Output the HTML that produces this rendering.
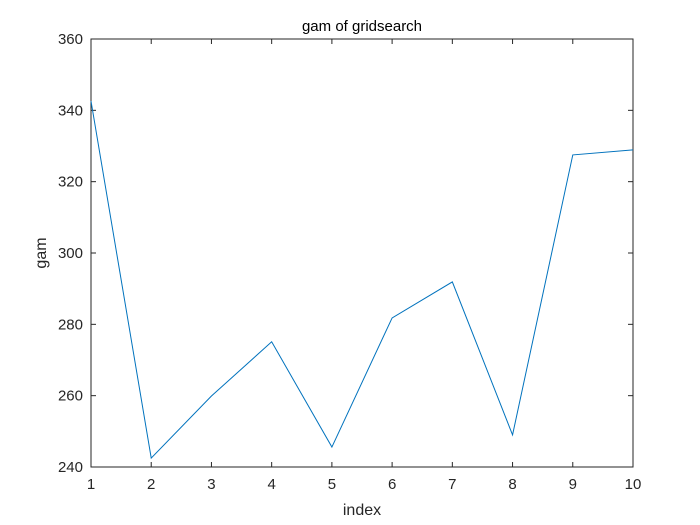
<!DOCTYPE html>
<html><head><meta charset="utf-8"><style>
body{margin:0;background:#fff;}
svg{display:block;font-family:"Liberation Sans",Arial,sans-serif;}
</style></head><body>
<svg id="chart" width="700" height="525">
<rect width="700" height="525" fill="#fff"/>
</svg>
<script>
const categories=[1,2,3,4,5,6,7,8,9,10];
const gamValues=[342.6,242.5,259.9,275.1,245.6,281.8,291.9,249.0,327.5,328.9];
const yTicks=[240,260,280,300,320,340,360];
const xTicks=[1,2,3,4,5,6,7,8,9,10];
const L=91,R=633,T=39,B=467;
const xs=v=>L+(v-1)/(10-1)*(R-L);
const ys=v=>B-(v-240)/(360-240)*(B-T);
const svg=document.getElementById('chart');
const NS='http://www.w3.org/2000/svg';
function mk(t,a,p){const e=document.createElementNS(NS,t);for(const k in a)e.setAttribute(k,a[k]);(p||svg).appendChild(e);return e;}
const box=mk('rect',{x:L,y:T,width:R-L,height:B-T,fill:'#fff',stroke:'#262626','stroke-width':1});


xTicks.forEach(v=>{const x=xs(v);
 const t1=mk('line',{x1:x,y1:B,x2:x,y2:B-5,stroke:'#262626'});
 
 
 mk('line',{x1:x,y1:T,x2:x,y2:T+5,stroke:'#262626'});
 const tx=mk('text',{x:x,y:B+22,'text-anchor':'middle','font-size':15,fill:'#262626'});tx.textContent=v;
 
 
});
yTicks.forEach(v=>{const y=ys(v);
 const t1=mk('line',{x1:L,y1:y,x2:L+5,y2:y,stroke:'#262626'});
 
 
 mk('line',{x1:R,y1:y,x2:R-5,y2:y,stroke:'#262626'});
 const tx=mk('text',{x:L-8,y:y+5,'text-anchor':'end','font-size':15,fill:'#262626'});tx.textContent=v;
 
 
});
const pts=categories.map((c,i)=>xs(c)+','+ys(gamValues[i])).join(' ');
const line=mk('polyline',{points:pts,fill:'none',stroke:'#0072BD','stroke-width':1});


const title=mk('text',{x:(L+R)/2,y:31,'text-anchor':'middle','font-size':15,fill:'#000'});title.textContent='gam of gridsearch';


const xl=mk('text',{x:(L+R)/2,y:515,'text-anchor':'middle','font-size':16,fill:'#262626'});xl.textContent='index';


const yl=mk('text',{x:0,y:0,'text-anchor':'middle','font-size':16,fill:'#262626',transform:'translate(46,'+((T+B)/2)+') rotate(-90)'});yl.textContent='gam';


</script>
</body></html>
